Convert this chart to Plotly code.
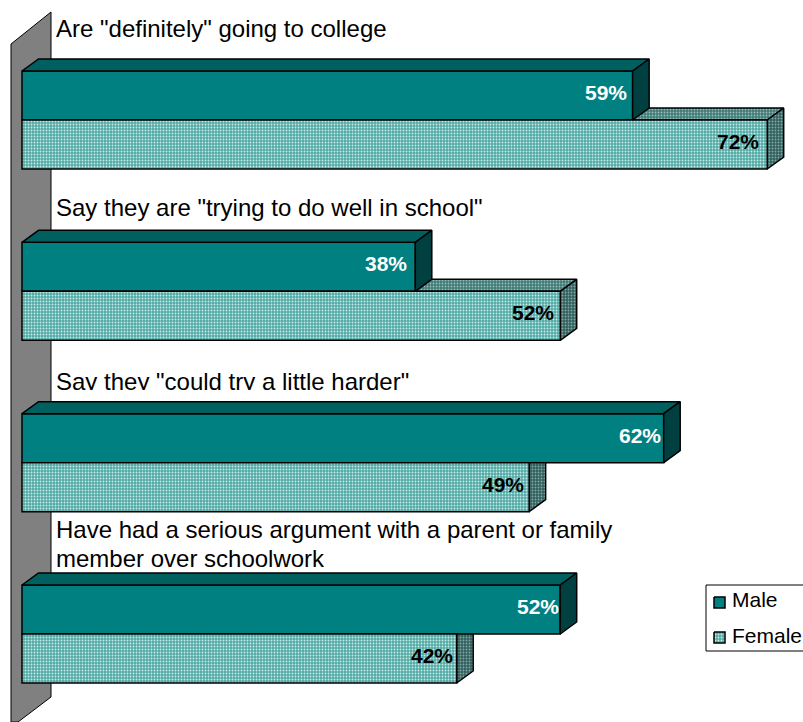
import plotly.graph_objects as go

categories = [
    'Are "definitely" going to college',
    'Say they are "trying to do well in school"',
    'Say they "could try a little harder"',
    'Have had a serious argument with a parent or family<br>member over schoolwork',
]
male = [59, 38, 62, 52]
female = [72, 52, 49, 42]
male_inset = [6, 8, 3, 1]
female_inset = [8, 6, 5, 4]

W, H = 803, 722
FONT = "Liberation Sans"
PX_PER_PCT = 10.35
ZERO_PX = 22.0
GROUP_PX = 171.33
GROUP0_PX = 120.0
BAR_FRAC = 0.286
DX = 16.5 / PX_PER_PCT
DY = 12.0 / GROUP_PX

TEAL = "#008080"
TEAL_TOP = "#006060"
TEAL_SIDE = "#004040"
EDGE = "#000000"


def xd(px):
    return (px - ZERO_PX) / PX_PER_PCT


def yd(px):
    return (px - GROUP0_PX) / GROUP_PX


def dither(fg, bg, size=3, solidity=0.3):
    return dict(shape=".", size=size, solidity=solidity, fgcolor=fg, bgcolor=bg, fillmode="replace")


LIGHT = dither("#c8ebe8", "#52a9a5")
LIGHT_TOP = dither("#98bcba", "#3f7a77")
LIGHT_SIDE = dither("#86a8a6", "#2f5f5d")


def poly(xs, ys, yaxis="y", color=None, pattern=None, width=1.5, name=""):
    t = dict(
        x=xs + xs[:1], y=ys + ys[:1], mode="lines", fill="toself",
        line=dict(color=EDGE, width=width), hoverinfo="skip",
        showlegend=False, yaxis=yaxis, name=name,
    )
    if pattern:
        t["fillpattern"] = pattern
        t["fillcolor"] = pattern["bgcolor"]
    else:
        t["fillcolor"] = color
    return go.Scatter(**t)


def top_face(v, y0):
    return [0, DX, v + DX, v], [y0, y0 - DY, y0 - DY, y0]


def side_face(v, y0, y1):
    return [v, v + DX, v + DX, v], [y0, y0 - DY, y1 - DY, y1]


fig = go.Figure()

# Back wall, behind every bar
fig.add_trace(poly(
    [xd(11), xd(51), xd(51), xd(18), xd(11)],
    [yd(44), yd(12), yd(697), yd(722), yd(722)],
    color="#808080", width=1,
))

# Depth faces of the lower bars sit behind the upper front faces
for i, v in enumerate(female):
    y0, y1 = i, i + BAR_FRAC
    fig.add_trace(poly(*top_face(v, y0), pattern=LIGHT_TOP))
    fig.add_trace(poly(*side_face(v, y0, y1), pattern=LIGHT_SIDE))

# Front faces
fig.add_trace(go.Bar(
    name="Male", y=list(range(4)), x=male, orientation="h", width=BAR_FRAC,
    marker=dict(color=TEAL, line=dict(color=EDGE, width=1.5)),
    yaxis="y2", hoverinfo="skip", showlegend=False,
))
fig.add_trace(go.Bar(
    name="Female", y=list(range(4)), x=female, orientation="h", width=BAR_FRAC,
    marker=dict(color=LIGHT["bgcolor"], pattern=LIGHT, line=dict(color=EDGE, width=1.5)),
    yaxis="y2", hoverinfo="skip", showlegend=False,
))

# Depth faces of the upper bars
for i, v in enumerate(male):
    y0, y1 = i - BAR_FRAC, i
    fig.add_trace(poly(*top_face(v, y0), yaxis="y2", color=TEAL_TOP))
    fig.add_trace(poly(*side_face(v, y0, y1), yaxis="y2", color=TEAL_SIDE))

# Category captions, one text point per line for a tight line spacing
caption_lines = [line for cat in categories for line in cat.split("<br>")]
caption_y = [yd(30.5), yd(209.5), yd(383.5), yd(531.5), yd(560.5)]
fig.add_trace(go.Scatter(
    x=[xd(56)] * len(caption_lines), y=caption_y, text=caption_lines, mode="text",
    textposition="middle right", yaxis="y2", hoverinfo="skip", showlegend=False,
    textfont=dict(family=FONT, size=24, color="#000000"),
))

# Legend swatches
fig.add_trace(poly([xd(714), xd(725), xd(725), xd(714)], [yd(597), yd(597), yd(608), yd(608)],
                   yaxis="y2", color=TEAL))
fig.add_trace(poly([xd(714), xd(725), xd(725), xd(714)], [yd(632), yd(632), yd(643), yd(643)],
                   yaxis="y2", pattern=LIGHT))

annotations = []
for i, (v, inset) in enumerate(zip(male, male_inset)):
    annotations.append(dict(
        x=v, y=i - BAR_FRAC / 2, yref="y2", xref="x", text=f"<b>{v}%</b>", showarrow=False,
        xanchor="right", xshift=-inset + 2, yshift=3, font=dict(family=FONT, size=21, color="#ffffff"),
    ))
for i, (v, inset) in enumerate(zip(female, female_inset)):
    annotations.append(dict(
        x=v, y=i + BAR_FRAC / 2, yref="y2", xref="x", text=f"<b>{v}%</b>", showarrow=False,
        xanchor="right", xshift=-inset + 2, yshift=3, font=dict(family=FONT, size=21, color="#000000"),
    ))
for label, py in (("Male", 599), ("Female", 635)):
    annotations.append(dict(
        x=xd(732), y=yd(py), yref="y2", xref="x", text=label, showarrow=False,
        xanchor="left", xshift=-2, font=dict(family=FONT, size=21, color="#000000"),
    ))

shapes = [
    # Frame around the legend
    dict(type="rect", xref="x", yref="y", x0=xd(706), x1=xd(806), y0=yd(585), y1=yd(651),
         line=dict(color="#000000", width=1), fillcolor="rgba(0,0,0,0)", layer="below"),
    # Caption area stops short of the bar below it
    dict(type="rect", xref="x", yref="y", x0=xd(52), x1=xd(700), y0=yd(390), y1=yd(400.5),
         line=dict(width=0), fillcolor="#ffffff", layer="above"),
]

y_range = [yd(H), yd(0)]
fig.update_layout(
    width=W, height=H, margin=dict(l=0, r=0, t=0, b=0),
    paper_bgcolor="#ffffff", plot_bgcolor="#ffffff",
    barmode="group", bargap=1 - 2 * BAR_FRAC, bargroupgap=0,
    xaxis=dict(range=[xd(0), xd(W)], visible=False, fixedrange=True),
    yaxis=dict(range=y_range, visible=False, fixedrange=True),
    yaxis2=dict(range=y_range, visible=False, fixedrange=True, overlaying="y"),
    annotations=annotations, shapes=shapes,
    showlegend=False,
)

fig.write_html("out.html", config=dict(displayModeBar=False))
